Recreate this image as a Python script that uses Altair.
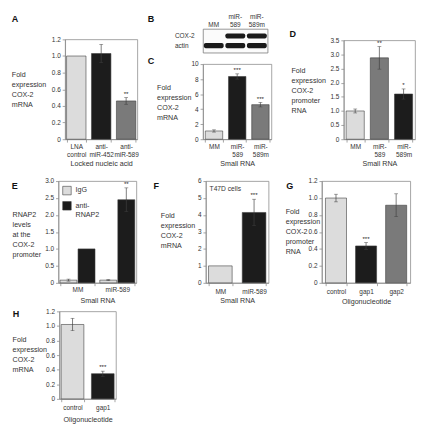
import altair as alt
import pandas as pd

FONT = "Liberation Sans"
TXT = "#333333"
AXC = "#8a8a8a"
ERR = "#404040"
SHADES = ["light", "gray", "black"]
SHADE_COLORS = ["#dcdcdc", "#7a7a7a", "#1c1c1c"]

FMT1 = "datum.value == 0 ? '0' : format(datum.value, '.1f')"
FMT0 = "format(datum.value, 'd')"
SPLIT = "split(datum.label, '\\n')"

# ---------------- data ----------------
# A
a_cats = ["LNA\ncontrol", "anti-\nmiR-452", "anti-\nmiR-589"]
a_vals = [1.0, 1.03, 0.46]
a_errs = [0.0, 0.11, 0.04]
a_shades = ["light", "black", "gray"]
a_stars = ["", "", "**"]
a_ticks = [0, 0.2, 0.4, 0.6, 0.8, 1.0, 1.2]

# B (western blot)
b_lanes = ["MM", "miR-\n589", "miR-\n589m"]
b_rows = ["COX-2", "actin"]
b_cox2 = [0.0, 1.0, 1.0]
b_actin = [1.0, 1.0, 1.0]

# C
c_cats = ["MM", "miR-\n589", "miR-\n589m"]
c_vals = [1.1, 8.35, 4.6]
c_errs = [0.15, 0.35, 0.3]
c_shades = ["light", "black", "gray"]
c_stars = ["", "***", "***"]
c_ticks = [0, 2, 4, 6, 8, 10]

# D
d_cats = ["MM", "miR-\n589", "miR-\n589m"]
d_vals = [1.0, 2.88, 1.6]
d_errs = [0.07, 0.4, 0.18]
d_shades = ["light", "gray", "black"]
d_stars = ["", "**", "*"]
d_ticks = [0, 0.5, 1.0, 1.5, 2.0, 2.5, 3.0, 3.5]

# E
e_groups = ["MM", "MM", "miR-589", "miR-589"]
e_ab = ["IgG", "anti-\nRNAP2", "IgG", "anti-\nRNAP2"]
e_vals = [0.08, 1.0, 0.08, 2.45]
e_errs = [0.03, 0.0, 0.015, 0.35]
e_stars = ["", "", "", "**"]
e_ticks = [0, 0.5, 1.0, 1.5, 2.0, 2.5, 3.0]
e_group_order = ["MM", "miR-589"]
e_ab_order = ["IgG", "anti-\nRNAP2"]

# F
f_cats = ["MM", "miR-589"]
f_vals = [1.0, 4.15]
f_errs = [0.0, 0.78]
f_shades = ["light", "black"]
f_stars = ["", "***"]
f_ticks = [0, 1, 2, 3, 4, 5, 6]

# G
g_cats = ["control", "gap1", "gap2"]
g_vals = [1.0, 0.435, 0.915]
g_errs = [0.045, 0.04, 0.135]
g_shades = ["light", "black", "gray"]
g_stars = ["", "***", ""]
g_ticks = [0, 0.2, 0.4, 0.6, 0.8, 1.0, 1.2]

# H
h_cats = ["control", "gap1"]
h_vals = [1.02, 0.345]
h_errs = [0.085, 0.035]
h_shades = ["light", "black"]
h_stars = ["", "***"]
h_ticks = [0, 0.2, 0.4, 0.6, 0.8, 1.0, 1.2]

T_MRNA = ["Fold", "expression", "COX-2", "mRNA"]
T_PROM = ["Fold", "expression", "COX-2", "promoter", "RNA"]
T_RNAP = ["RNAP2", "levels", "at the", "COX-2", "promoter"]


# ---------------- helpers ----------------
def spacer(w, h):
    return (alt.Chart(pd.DataFrame({"s": [0]}))
            .mark_point(opacity=0, size=0)
            .encode(x=alt.value(w / 2), y=alt.value(h / 2))
            .properties(width=w, height=h, view=alt.ViewBackground(stroke="transparent")))


def letter(ch, lx, ly):
    return (alt.Chart(pd.DataFrame({"t": [ch]}))
            .mark_text(align="left", baseline="middle", fontSize=9.5, fontWeight="bold",
                       font=FONT, color="#111111")
            .encode(x=alt.value(lx), y=alt.value(ly), text="t:N"))


def y_axis(ticks, expr, title, tx, ty):
    return alt.Axis(values=ticks, labelExpr=expr, title=title, titleAngle=0, titleAlign="left",
                    titleBaseline="top", titleX=tx, titleY=ty, tickSize=3, labelPadding=2,
                    grid=False)


def x_axis(title, lpad, tpad):
    return alt.Axis(title=title, labelAngle=0, labelExpr=SPLIT, tickBand="extent", tickSize=3,
                    labelPadding=lpad, titlePadding=tpad, grid=False)


def bar_panel(cats, vals, errs, shades, stars, ticks, expr, ytitle, tx, ty,
              xtitle, lpad, tpad, w, h, pin, pout, ltr, lx, ly, extra=None):
    df = pd.DataFrame({"cat": cats, "val": vals, "err": errs, "shade": shades, "star": stars})
    base = alt.Chart(df).transform_calculate(lo="datum.val - datum.err",
                                             hi="datum.val + datum.err")
    xs = alt.X("cat:N", sort=cats, scale=alt.Scale(paddingInner=pin, paddingOuter=pout),
               axis=x_axis(xtitle, lpad, tpad))
    ysc = alt.Scale(domain=[0, ticks[-1]], nice=False, zero=True)
    yax = y_axis(ticks, expr, ytitle, tx, ty)

    def Y(f):
        return alt.Y(f, type="quantitative", scale=ysc, axis=yax)

    bars = base.mark_bar(stroke="#3a3a3a", strokeWidth=0.6).encode(
        x=xs, y=Y("val"),
        color=alt.Color("shade:N", scale=alt.Scale(domain=SHADES, range=SHADE_COLORS),
                        legend=None))
    eb = base.transform_filter("datum.err > 0")
    rule = eb.mark_rule(color=ERR, strokeWidth=0.7).encode(x=xs, y=Y("lo"), y2="hi:Q")
    cap_hi = eb.mark_tick(color=ERR, thickness=0.7, size=4).encode(x=xs, y=Y("hi"))
    cap_lo = eb.mark_tick(color=ERR, thickness=0.7, size=4).encode(x=xs, y=Y("lo"))
    star = base.mark_text(baseline="bottom", dy=-1, fontSize=6.5, color="#222222",
                          font=FONT).encode(x=xs, y=Y("hi"), text="star:N")
    layers = [bars, rule, cap_hi, cap_lo, star, letter(ltr, lx, ly)]
    if extra is not None:
        layers.append(extra)
    return alt.layer(*layers).properties(width=w, height=h)


def row(*charts):
    return (alt.hconcat(*charts, spacing=0, bounds="full")
            .resolve_scale(color="independent"))


def flat_v(*charts):
    return (alt.vconcat(*charts, spacing=0, bounds="flush")
            .resolve_scale(color="independent"))


# ---------------- panels ----------------
A = bar_panel(a_cats, a_vals, a_errs, a_shades, a_stars, a_ticks, FMT1, T_MRNA, -56.5, 33.4,
              "Locked nucleic acid", 2, 1.5, 76, 105, 0.22, 0.06, "A", -56, -21)

# B blot
b_df = pd.DataFrame({
    "lane": b_lanes * 2,
    "row": [b_rows[0]] * 3 + [b_rows[1]] * 3,
    "level": b_cox2 + b_actin,
})
b_x = alt.X("lane:N", sort=b_lanes, scale=alt.Scale(paddingInner=0.08, paddingOuter=0.04),
            axis=None)
b_bands = (alt.Chart(b_df).transform_filter("datum.level > 0")
           .mark_rect(color="#1a1a1a", cornerRadius=2)
           .encode(
               x=b_x,
               y=alt.Y("row:N", sort=b_rows,
                       scale=alt.Scale(paddingInner=0.47, paddingOuter=0.46),
                       axis=alt.Axis(title=None, ticks=False, tickSize=0, domain=False,
                                     labelPadding=30, labelAlign="left")),
               opacity=alt.Opacity("level:Q", scale=None)))
b_head = alt.Chart(pd.DataFrame({"lane": b_lanes})).transform_calculate(
    parts="split(datum.lane, '\\n')").transform_calculate(
    line1="length(datum.parts) > 1 ? datum.parts[0] : ''",
    line2="peek(datum.parts)")
b_head1 = b_head.mark_text(baseline="middle", fontSize=6.8, color=TXT, font=FONT).encode(
    x=b_x, y=alt.value(-12.6), text="line1:N")
b_head2 = b_head.mark_text(baseline="middle", fontSize=6.8, color=TXT, font=FONT).encode(
    x=b_x, y=alt.value(-3.9), text="line2:N")
B = alt.layer(b_bands, b_head1, b_head2, letter("B", -58, -10)).properties(
    width=68, height=25, view=alt.ViewBackground(stroke="#777777", fill="#fbfbfb"))

C = bar_panel(c_cats, c_vals, c_errs, c_shades, c_stars, c_ticks, FMT0, T_MRNA, -48.8, 21,
              "Small RNA", 2, 1.5, 72, 79, 0.25, 0.1, "C", -58, -3.3)

D = bar_panel(d_cats, d_vals, d_errs, d_shades, d_stars, d_ticks, FMT1, T_PROM, -55.4, 27.5,
              "Small RNA", 2, 1.5, 75, 104, 0.25, 0.1, "D", -57, -6.6)

# E grouped
e_df = pd.DataFrame({"grp": e_groups, "ab": e_ab, "val": e_vals, "err": e_errs,
                     "star": e_stars})
e_base = alt.Chart(e_df).transform_calculate(lo="datum.val - datum.err",
                                             hi="datum.val + datum.err")
e_x = alt.X("grp:N", sort=e_group_order,
            scale=alt.Scale(paddingInner=0.12, paddingOuter=0.04),
            axis=x_axis("Small RNA", 1, 4))
e_xo = alt.XOffset("ab:N", sort=e_ab_order, scale=alt.Scale(paddingInner=0.06))
e_ysc = alt.Scale(domain=[0, 3.0], nice=False, zero=True)
e_yax = y_axis(e_ticks, FMT1, T_RNAP, -48.7, 31)


def EY(f):
    return alt.Y(f, type="quantitative", scale=e_ysc, axis=e_yax)


e_bars = e_base.mark_bar(stroke="#3a3a3a", strokeWidth=0.6).encode(
    x=e_x, xOffset=e_xo, y=EY("val"),
    color=alt.Color("ab:N", sort=e_ab_order,
                    scale=alt.Scale(domain=e_ab_order, range=[SHADE_COLORS[0], SHADE_COLORS[2]]),
                    legend=alt.Legend(orient="none", legendX=4, legendY=5, title=None,
                                      symbolType="square", symbolSize=80,
                                      symbolStrokeColor="#3a3a3a", symbolStrokeWidth=0.6,
                                      labelFontSize=7.5, labelFont=FONT, labelColor=TXT,
                                      labelExpr=SPLIT, rowPadding=4)))
e_eb = e_base.transform_filter("datum.err > 0")
e_rule = e_eb.mark_rule(color=ERR, strokeWidth=0.7).encode(x=e_x, xOffset=e_xo, y=EY("lo"),
                                                           y2="hi:Q")
e_cap_hi = e_eb.mark_tick(color=ERR, thickness=0.7, size=4).encode(x=e_x, xOffset=e_xo,
                                                                  y=EY("hi"))
e_cap_lo = e_eb.mark_tick(color=ERR, thickness=0.7, size=4).encode(x=e_x, xOffset=e_xo,
                                                                  y=EY("lo"))
e_star = e_base.mark_text(baseline="bottom", dy=-1, fontSize=6.5, color="#222222",
                          font=FONT).encode(x=e_x, xOffset=e_xo, y=EY("hi"), text="star:N")
E = alt.layer(e_bars, e_rule, e_cap_hi, e_cap_lo, e_star, letter("E", -49, 4.9)).properties(
    width=82, height=107)

f_note = (alt.Chart(pd.DataFrame({"t": ["T47D cells"]}))
          .mark_text(align="left", baseline="middle", fontSize=7, font=FONT, color=TXT)
          .encode(x=alt.value(4), y=alt.value(8), text="t:N"))
F = bar_panel(f_cats, f_vals, f_errs, f_shades, f_stars, f_ticks, FMT0, T_MRNA, -47.8, 32,
              "Small RNA", 3, 2, 66, 107, 0.3, 0.08, "F", -55, 4.9, extra=f_note)

G = bar_panel(g_cats, g_vals, g_errs, g_shades, g_stars, g_ticks, FMT1, T_PROM, -38.5, 28,
              "Oligonucleotide", 3, 2.5, 93, 107, 0.3, 0.12, "G", -37.5, 4.9)

H = bar_panel(h_cats, h_vals, h_errs, h_shades, h_stars, h_ticks, FMT1, T_MRNA, -49.7, 25.3,
              "Oligonucleotide", 3, 5.5, 59.5, 92, 0.25, 0.06, "H", -49, 3)

# ---------------- layout ----------------
colA = flat_v(spacer(1, 27), A)
colBC = flat_v(spacer(1, 16), B, spacer(1, 12), C)
colD = flat_v(spacer(1, 28), D)
row1 = row(spacer(1, 1), colA, spacer(6.1, 1), colBC, spacer(15, 1), colD)
row2 = row(spacer(1, 1), E, spacer(13.7, 1), F, spacer(14.1, 1), G)
row3 = row(spacer(1, 1), H)

chart = (alt.vconcat(row1, spacer(1, 4.6), row2, row3, spacing=2, bounds="full")
         .resolve_scale(color="independent")
         .properties(padding={"left": 0, "top": -6, "right": 0, "bottom": 0})
         .configure_axis(labelFont=FONT, titleFont=FONT, labelFontSize=6.8, titleFontSize=7.5,
                         titleFontWeight="normal", labelColor=TXT, titleColor=TXT,
                         domainColor=AXC, tickColor=AXC, domainWidth=0.8, tickWidth=0.8,
                         labelLineHeight=8.5, titleLineHeight=10.5)
         .configure_view(stroke=AXC, strokeWidth=0.8)
         .configure_text(font=FONT))

chart.save("out.html", embed_options={"renderer": "svg", "actions": False})
